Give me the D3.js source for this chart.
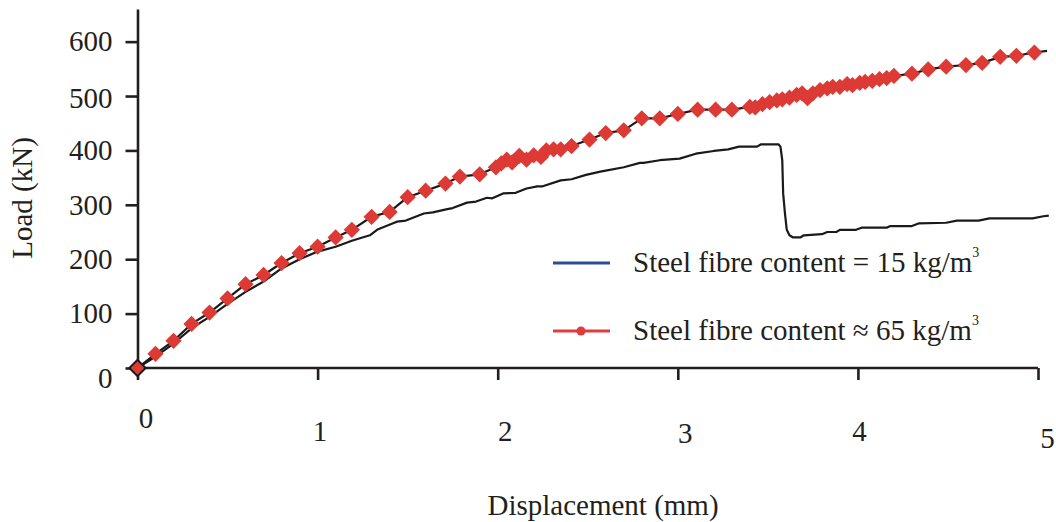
<!DOCTYPE html>
<html>
<head>
<meta charset="utf-8">
<script src="https://cdn.jsdelivr.net/npm/d3@7"></script>
<style>
  body { margin: 0; background: #fff; }
  svg text { font-family: "Liberation Serif", "Times New Roman", serif; fill: #231f20; }
</style>
</head>
<body>
<div id="chart"></div>
<script>
// displacement (mm) / load (kN), 15 kg/m3 specimen
var disp15 = [0, 0.10, 0.20, 0.30, 0.40, 0.50, 0.60, 0.70, 0.80, 0.90, 1.00, 1.10, 1.19, 1.29, 1.33, 1.35,
  1.44, 1.49, 1.59, 1.64, 1.72, 1.75, 1.83, 1.88, 1.94, 1.97, 2.03, 2.10, 2.16, 2.22, 2.25, 2.35, 2.41,
  2.49, 2.57, 2.60, 2.70, 2.79, 2.81, 2.90, 3.01, 3.10, 3.20, 3.28, 3.34, 3.44, 3.46, 3.56, 3.57, 3.58,
  3.585, 3.595, 3.605, 3.62, 3.64, 3.68, 3.70, 3.80, 3.83, 3.88, 3.90, 3.99, 4.02, 4.16, 4.18, 4.30,
  4.34, 4.49, 4.55, 4.67, 4.73, 4.97, 5.03, 5.06];
var load15 = [0, 21, 45, 73, 94, 118, 140, 159, 183, 200, 214, 223, 234, 244, 254, 257,
  269, 271, 284, 286, 292, 294, 304, 306, 313, 312, 321, 322, 330, 334, 334, 345, 347,
  355, 361, 363, 369, 377, 377, 382, 385, 394, 399, 402, 407, 407, 411, 411, 407, 382,
  321, 284, 254, 244, 240, 240, 244, 246, 250, 250, 254, 254, 258, 258, 261, 261,
  266, 267, 271, 271, 275, 275, 279, 280];

// 65 kg/m3 specimen, one entry per plotted marker
var disp65 = [0, 0.10, 0.20, 0.30, 0.40, 0.50, 0.60, 0.70, 0.80, 0.90, 1.00, 1.10, 1.19, 1.30, 1.40,
  1.50, 1.60, 1.71, 1.79, 1.90, 1.99, 2.02, 2.05, 2.08, 2.12, 2.16, 2.20, 2.24, 2.27, 2.31, 2.35,
  2.41, 2.51, 2.60, 2.70, 2.80, 2.90, 3.00, 3.11, 3.21, 3.30, 3.40, 3.43, 3.47, 3.51, 3.55, 3.58,
  3.62, 3.66, 3.69, 3.72, 3.75, 3.79, 3.83, 3.86, 3.90, 3.94, 3.97, 4.01, 4.04, 4.08, 4.12, 4.16,
  4.20, 4.30, 4.39, 4.49, 4.60, 4.69, 4.79, 4.88, 4.98];
var load65 = [0, 26, 50, 81, 102, 128, 154, 171, 193, 211, 223, 240, 254, 278, 287,
  314, 326, 339, 352, 356, 369, 376, 383, 378, 390, 383, 391, 388, 400, 402, 402,
  408, 420, 432, 437, 459, 459, 467, 475, 475, 475, 480, 479, 485, 489, 492, 494,
  497, 502, 505, 496, 505, 511, 514, 517, 517, 522, 520, 524, 526, 528, 531, 533,
  537, 541, 549, 554, 557, 561, 572, 574, 580];
// last recorded reading of the 65 kg/m3 trace (no marker)
var end65 = [5.05, 583];

var xTicks = [0, 1, 2, 3, 4, 5];
var yTicks = [0, 100, 200, 300, 400, 500, 600];

var legendItems = ["Steel fibre content = 15 kg/m", "Steel fibre content \u2248 65 kg/m"];

var W = 1056, H = 522;
var svg = d3.select("#chart").append("svg").attr("width", W).attr("height", H);

var x = d3.scaleLinear().domain([0, 5]).range([137.5, 1038]);
var y = d3.scaleLinear().domain([0, 660]).range([368, 9]);

var fontSize = 29;

// axes
var xAxis = svg.append("g")
  .attr("transform", "translate(0," + y(0) + ")")
  .call(d3.axisBottom(x).tickValues(xTicks).tickSize(12).tickSizeOuter(0).tickPadding(40).tickFormat(d3.format("d")));
var yAxis = svg.append("g")
  .attr("transform", "translate(" + x(0) + ",0)")
  .call(d3.axisLeft(y).tickValues(yTicks).tickSize(12).tickSizeOuter(0).tickPadding(13));

[xAxis, yAxis].forEach(function(g) {
  g.select(".domain").attr("stroke", "#231f20").attr("stroke-width", 2.6);
  g.selectAll(".tick line").attr("stroke", "#231f20").attr("stroke-width", 2.6);
  g.selectAll(".tick text").style("font-size", fontSize + "px").attr("fill", "#231f20")
    .style("font-family", "'Liberation Serif', serif");
});
xAxis.select(".domain").attr("d", "M" + x(0) + ",0H" + x(5));

// per-label offsets of the tick numbers
var xNudge = {0: [8, -13], 1: [2, 0], 2: [7, 0], 3: [7, 2], 4: [1, 0], 5: [9, 7]};
xAxis.selectAll(".tick text").attr("transform", function(d) {
  var n = xNudge[d] || [0, 0];
  return "translate(" + n[0] + "," + n[1] + ")";
});
yAxis.selectAll(".tick text").attr("transform", function(d) {
  return d === 0 ? "translate(0,10)" : d === 500 ? "translate(0,2)" : null;
});

// axis titles
svg.append("text")
  .attr("transform", "translate(32,198) rotate(-90)")
  .attr("text-anchor", "middle")
  .style("font-size", fontSize + "px")
  .text("Load (kN)");
svg.append("text")
  .attr("x", 603).attr("y", 515)
  .attr("text-anchor", "middle")
  .style("font-size", fontSize + "px")
  .text("Displacement (mm)");

// curves
var pts15 = disp15.map(function(d, i) { return [d, load15[i]]; });
var pts65 = disp65.map(function(d, i) { return [d, load65[i]]; });

var line = d3.line()
  .x(function(d) { return x(d[0]); })
  .y(function(d) { return y(d[1]); });

svg.append("path")
  .datum(pts15)
  .attr("d", line)
  .attr("fill", "none")
  .attr("stroke", "#1a1a1a")
  .attr("stroke-width", 2.2)
  .attr("stroke-linejoin", "round");

svg.append("path")
  .datum(pts65.concat([end65]))
  .attr("d", line)
  .attr("fill", "none")
  .attr("stroke", "#1a1a1a")
  .attr("stroke-width", 2.2)
  .attr("stroke-linejoin", "round");

var diamond = d3.symbol().type(d3.symbolSquare).size(132);
svg.append("g").selectAll("path")
  .data(pts65)
  .join("path")
  .attr("d", diamond)
  .attr("transform", function(d) { return "translate(" + x(d[0]) + "," + y(d[1]) + ") rotate(45)"; })
  .attr("fill", "#dd3a35")
  .attr("stroke", function(d, i) { return i === 0 ? "#1a1a1a" : "none"; })
  .attr("stroke-width", 2);

// legend
var legend = svg.append("g");
var legendColors = ["#2c4c9c", "#e03c3c"];
var legendY = [263, 331];
legendItems.forEach(function(label, i) {
  legend.append("line")
    .attr("x1", 553).attr("x2", 610)
    .attr("y1", legendY[i]).attr("y2", legendY[i])
    .attr("stroke", legendColors[i]).attr("stroke-width", 3);
  if (i === 1) {
    legend.append("circle")
      .attr("cx", 581).attr("cy", legendY[i]).attr("r", 4.5)
      .attr("fill", legendColors[i]);
  }
  var t = legend.append("text")
    .attr("x", 633).attr("y", legendY[i] + 9)
    .style("font-size", fontSize + "px")
    .text(label);
  t.append("tspan")
    .attr("dy", -15)
    .style("font-size", "14px")
    .text("3");
});
</script>
</body>
</html>
